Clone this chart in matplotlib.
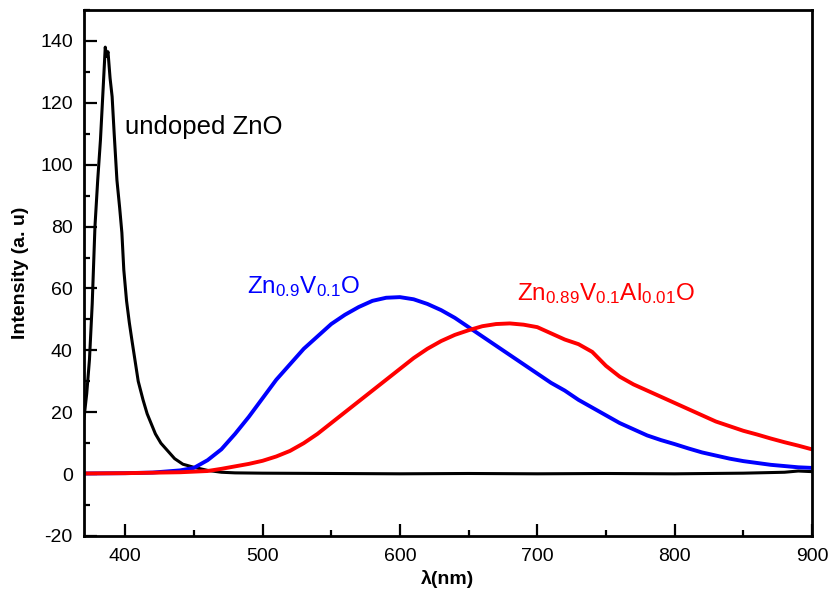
import matplotlib
matplotlib.use('Agg')
import matplotlib.pyplot as plt
from matplotlib.ticker import MultipleLocator

plt.rcParams['font.family'] = ['Liberation Sans', 'DejaVu Sans']
plt.rcParams['mathtext.default'] = 'regular'
plt.rcParams['axes.unicode_minus'] = False

# undoped ZnO (black)
wl_zno = [370, 372, 374, 376, 378, 380, 382, 384, 385.5, 386.5, 387.5, 389, 390.5, 392, 394,
          396, 397.6, 399, 401, 403, 405, 409.5, 413, 416, 422, 426, 431, 436, 442, 450,
          460, 470, 480, 500, 550, 600, 650, 700, 750, 800, 850, 880, 890, 900]
int_zno = [18, 26, 37, 55, 80, 95, 108, 125, 138, 135, 136.5, 128, 122, 110, 95,
           86, 78, 66, 56, 49, 43, 30, 24, 19.5, 13, 10, 7.5, 5, 3.2, 2.2,
           1.2, 0.6, 0.4, 0.3, 0.2, 0.1, 0.2, 0.1, 0.2, 0.1, 0.3, 0.6, 1.0, 0.8]

# Zn0.9V0.1O (blue)
wl_znv = [370, 400, 420, 440, 450, 460, 470, 480, 490, 500, 510, 520, 530, 540, 550,
          560, 570, 580, 590, 600, 610, 620, 630, 640, 650, 660, 670, 680, 690, 700,
          710, 720, 730, 740, 750, 760, 770, 780, 790, 800, 810, 820, 830, 840, 850,
          860, 870, 880, 890, 900]
int_znv = [0.2, 0.3, 0.5, 1.2, 2, 4.5, 8, 13, 18.5, 24.5, 30.5, 35.5, 40.5, 44.5, 48.5,
           51.5, 54, 56, 57, 57.2, 56.5, 55, 53, 50.5, 47.5, 44.5, 41.5, 38.5, 35.5, 32.5,
           29.5, 27, 24, 21.5, 19, 16.5, 14.5, 12.5, 11, 9.7, 8.3, 7, 6, 5, 4.2,
           3.6, 3, 2.6, 2.2, 2.0]

# Zn0.89V0.1Al0.01O (red)
wl_znva = [370, 400, 440, 460, 470, 480, 490, 500, 510, 520, 530, 540, 550, 560, 570,
           580, 590, 600, 610, 620, 630, 640, 650, 660, 670, 680, 690, 700, 710, 720,
           730, 740, 750, 760, 770, 780, 790, 800, 810, 820, 830, 840, 850, 860, 870,
           880, 890, 900]
int_znva = [0.2, 0.3, 0.6, 1, 1.7, 2.5, 3.3, 4.3, 5.7, 7.5, 10, 13, 16.5, 20, 23.5,
            27, 30.5, 34, 37.5, 40.5, 43, 45, 46.5, 47.8, 48.5, 48.7, 48.3, 47.5, 45.5, 43.5,
            42, 39.5, 35, 31.5, 29, 27, 25, 23, 21, 19, 17, 15.5, 14, 12.8, 11.5,
            10.3, 9.2, 8]

fig = plt.figure(figsize=(8.33, 5.99), dpi=100)
ax = fig.add_axes([0.1008, 0.1052, 0.874, 0.8781])

ax.plot(wl_zno, int_zno, color='black', lw=2.2)
ax.plot(wl_znv, int_znv, color='#0000ff', lw=2.8)
ax.plot(wl_znva, int_znva, color='#ff0000', lw=2.8)

ax.set_xlim(370, 900)
ax.set_ylim(-20, 150)
ax.xaxis.set_major_locator(MultipleLocator(100))
ax.xaxis.set_minor_locator(MultipleLocator(50))
ax.yaxis.set_major_locator(MultipleLocator(20))
ax.yaxis.set_minor_locator(MultipleLocator(10))
ax.tick_params(which='both', direction='in', top=False, right=False, width=1.6, labelsize=14)
ax.tick_params(which='major', length=9, pad=9)
ax.tick_params(which='minor', length=4.5)
ax.tick_params(axis='y', pad=8)
for sp in ax.spines.values():
    sp.set_linewidth(2)

ax.set_xlabel('λ(nm)', fontsize=14, fontweight='bold', labelpad=3)
ax.set_ylabel('Intensity (a. u)', fontsize=14, fontweight='bold', labelpad=8)

ax.text(400, 110, 'undoped ZnO', fontsize=18.5, color='black')
ax.text(489, 58.4, 'Zn$_{0.9}$V$_{0.1}$O', fontsize=17.5, color='#0000ff')
ax.text(685, 56.2, 'Zn$_{0.89}$V$_{0.1}$Al$_{0.01}$O', fontsize=17.5, color='#ff0000')

fig.savefig('out.png', dpi=100)
